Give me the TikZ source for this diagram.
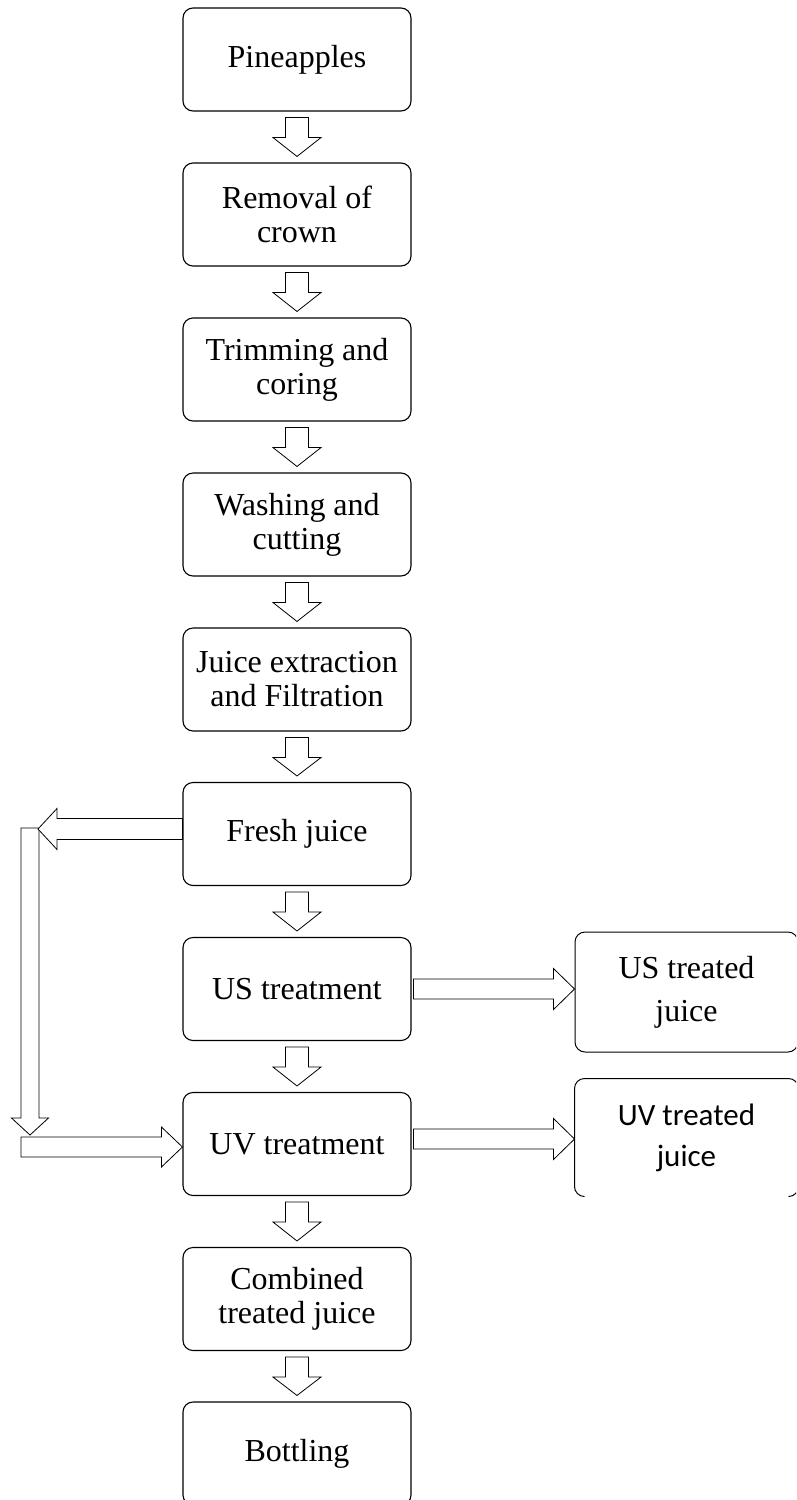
\documentclass[tikz,border=0pt]{standalone}
\usepackage{fontspec}
\setmainfont{Liberation Serif}
\newfontfamily\calfont{Carlito}
\usetikzlibrary{calc}
\tikzset{
  mainbox/.style={draw, line width=1.1pt, rounded corners=10pt, minimum width=228pt,
    minimum height=103pt, inner sep=0pt, align=center, font=\fontsize{32}{34}\selectfont},
  sidebox/.style={line width=1.0pt, rounded corners=10pt, minimum width=223pt,
    inner sep=0pt, align=center},
  blockarrow/.style={draw, line width=0.8pt, fill=white, line join=miter},
}
\newcommand\downblock[2]{%
  \draw[blockarrow] let \p1=(#1.south), \p2=(#2.north) in
    (\x1-11.5pt,\y1-6pt) -- (\x1+11.5pt,\y1-6pt) -- (\x1+11.5pt,\y1-26pt) --
    (\x1+24pt,\y1-26pt) -- (\x1,\y2+6pt) -- (\x1-24pt,\y1-26pt) --
    (\x1-11.5pt,\y1-26pt) -- cycle;}
\newcommand\rightblock[3]{%
  \draw[blockarrow] let \p1=($(#1.east)+(2,#3)$), \p2=(#2.west) in
    (\x1,\y1+10pt) -- (\x2-21pt,\y1+10pt) -- (\x2-21pt,\y1+20.5pt) -- (\x2,\y1) --
    (\x2-21pt,\y1-20.5pt) -- (\x2-21pt,\y1-10pt) -- (\x1,\y1-10pt) -- cycle;}
\begin{document}
\begin{tikzpicture}[x=1pt,y=-1pt]
\useasboundingbox (0,0) rectangle (796,1500);
\clip (0,0) rectangle (796,1500);

\node[mainbox] (n1) at (297,59.5)  {Pineapples};
\node[mainbox] (n2) at (297,214.5) {Removal of\\crown};
\node[mainbox] (n3) at (297,369.5) {Trimming and\\coring};
\node[mainbox] (n4) at (297,524.5) {Washing and\\cutting};
\node[mainbox] (n5) at (297,679.5) {Juice extraction\\and Filtration};
\node[mainbox] (fj) at (297,834)   {Fresh juice};
\node[mainbox] (us) at (297,989)   {US treatment};
\node[mainbox] (uv) at (297,1144)  {UV treatment};
\node[mainbox] (ct) at (297,1299)  {Combined\\treated juice};
\node[mainbox] (bt) at (297,1453.5){Bottling};

\node[sidebox, draw, minimum height=120pt, font=\fontsize{32}{43}\selectfont]
  (usr) at (686.5,992) {US treated\\juice};
\node[sidebox, minimum height=117pt, font=\calfont\fontsize{31}{41}\selectfont]
  (uvr) at (686.5,1137.5) {UV treated\\juice};
\draw[line width=1.0pt, rounded corners=10pt]
  ($(uvr.south west)+(10,0)$) -- (uvr.south west) -- (uvr.north west) --
  (uvr.north east) -- (uvr.south east) -- ($(uvr.south east)+(-10,0)$);

\downblock{n1}{n2}
\downblock{n2}{n3}
\downblock{n3}{n4}
\downblock{n4}{n5}
\downblock{n5}{fj}
\downblock{fj}{us}
\downblock{us}{uv}
\downblock{uv}{ct}
\downblock{ct}{bt}

\rightblock{us}{usr}{0}
\rightblock{uv}{uvr}{-5}

\coordinate (ctop) at (30,829);
\coordinate (cbot) at (30,1147);

% vertical bar
\draw[blockarrow] let \p1=(ctop), \p2=(cbot) in
  (\x1-9pt,\y1+1pt) -- (\x1+9pt,\y1+1pt) -- (\x1+9pt,\y2+29pt) --
  (\x1+18.5pt,\y2+29pt) -- (\x1,\y2+12pt) -- (\x1-18.5pt,\y2+29pt) --
  (\x1-9pt,\y2+29pt) -- cycle;
% left arrow from fresh juice
\draw[blockarrow] let \p1=($(fj.west)+(0,-5)$), \p2=(ctop) in
  (\x1,\y1+10.5pt) -- (\x2+27pt,\y1+10.5pt) -- (\x2+27pt,\y1+20.5pt) --
  (\x2+8pt,\y1) -- (\x2+27pt,\y1-20.5pt) -- (\x2+27pt,\y1-10.5pt) --
  (\x1,\y1-10.5pt) -- cycle;
% bottom arrow into UV treatment
\draw[blockarrow] let \p1=(cbot), \p2=(uv.west) in
  (\x1-9pt,\y1+10pt) -- (\x2-21pt,\y1+10pt) -- (\x2-21pt,\y1+20pt) --
  (\x2,\y1) -- (\x2-21pt,\y1-20pt) -- (\x2-21pt,\y1-10pt) --
  (\x1-9pt,\y1-10pt) -- cycle;
\end{tikzpicture}
\end{document}
